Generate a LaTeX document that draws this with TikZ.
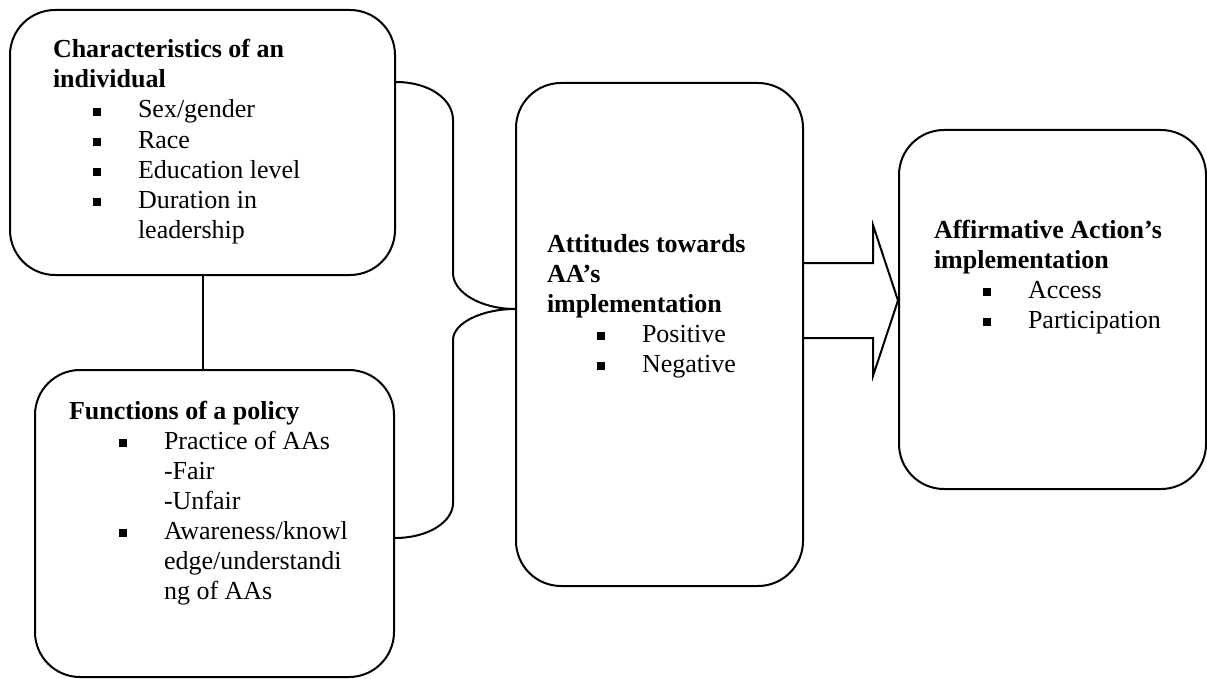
\documentclass[tikz,border=0pt]{standalone}
\usepackage{fontspec}
\setmainfont{Liberation Serif}
\usepackage{tikz}

\newcommand{\sqb}{\rule[2pt]{8pt}{8pt}}
\newcommand{\itm}[1][50pt]{\hspace*{#1}\makebox[45pt][l]{\sqb}}

\begin{document}
\begin{tikzpicture}[
            x = 1pt, y = -1pt, % pixel units, y going down
            line width = 2pt, % line style
            box/.style = {draw=black, rounded corners=45pt, inner sep=0pt, anchor=north west},
            txt/.style = {anchor=base west, align=left, inner sep=0pt, font=\fontsize{26}{30}\selectfont}
        ]
\useasboundingbox (0,0) rectangle (1207,679);

\node[box, minimum width=385pt, minimum height=265pt] (indiv) at (9,9) {};
\node[box, minimum width=359pt, minimum height=307pt] (policy) at (34,369) {};
\node[box, minimum width=287pt, minimum height=503pt] (attit) at (515,82) {};
\node[box, minimum width=307pt, minimum height=359pt] (impl) at (898,129) {};

% text nodes sit on the baseline of their last line
\node[txt] (indivtxt) at (52,238) {\textbf{Characteristics of an}\\
  \textbf{individual}\\
  \itm[40pt]Sex/gender\\
  \itm[40pt]Race\\
  \itm[40pt]Education level\\
  \itm[40pt]Duration in\\
  \hspace*{85pt}leadership};
\node[txt] (policytxt) at (68,599) {\textbf{Functions of a policy}\\
  \itm Practice of AAs\\
  \hspace*{95pt}-Fair\\
  \hspace*{95pt}-Unfair\\
  \itm Awareness/knowl\\
  \hspace*{95pt}edge/understandi\\
  \hspace*{95pt}ng of AAs};
\node[txt] (attittxt) at (546,372) {\textbf{Attitudes towards}\\
  \textbf{AA’s}\\
  \textbf{implementation}\\
  \itm Positive\\
  \itm Negative};
\node[txt] (impltxt) at (933,328) {\textbf{Affirmative Action’s}\\
  \textbf{implementation}\\
  \itm[49pt]Access\\
  \itm[49pt]Participation};

% link between the two left boxes
\draw (indiv.south) -- (indiv.south |- policy.north);

% brace into the attitudes box
\coordinate (bt) at (indiv.east |- attit.north);
\coordinate (bb) at (policy.east |- 0,538);
\coordinate (tip) at (attit.west |- 0,309);
\draw (bt) .. controls +(33,0) and +(0,-21) .. (453,120) -- (453,273)
  .. controls +(0,20) and +(-33,0) .. (tip)
  .. controls +(-33,0) and +(0,-17) .. (453,340) -- (453,503)
  .. controls +(0,19) and +(33,0) .. (bb);

% block arrow to the implementation box
\draw (attit.east |- 0,263) -- (873,263) -- (873,225) -- (impl.west |- 0,300.5)
  -- (873,376) -- (873,338) -- (attit.east |- 0,338);
\end{tikzpicture}
\end{document}
